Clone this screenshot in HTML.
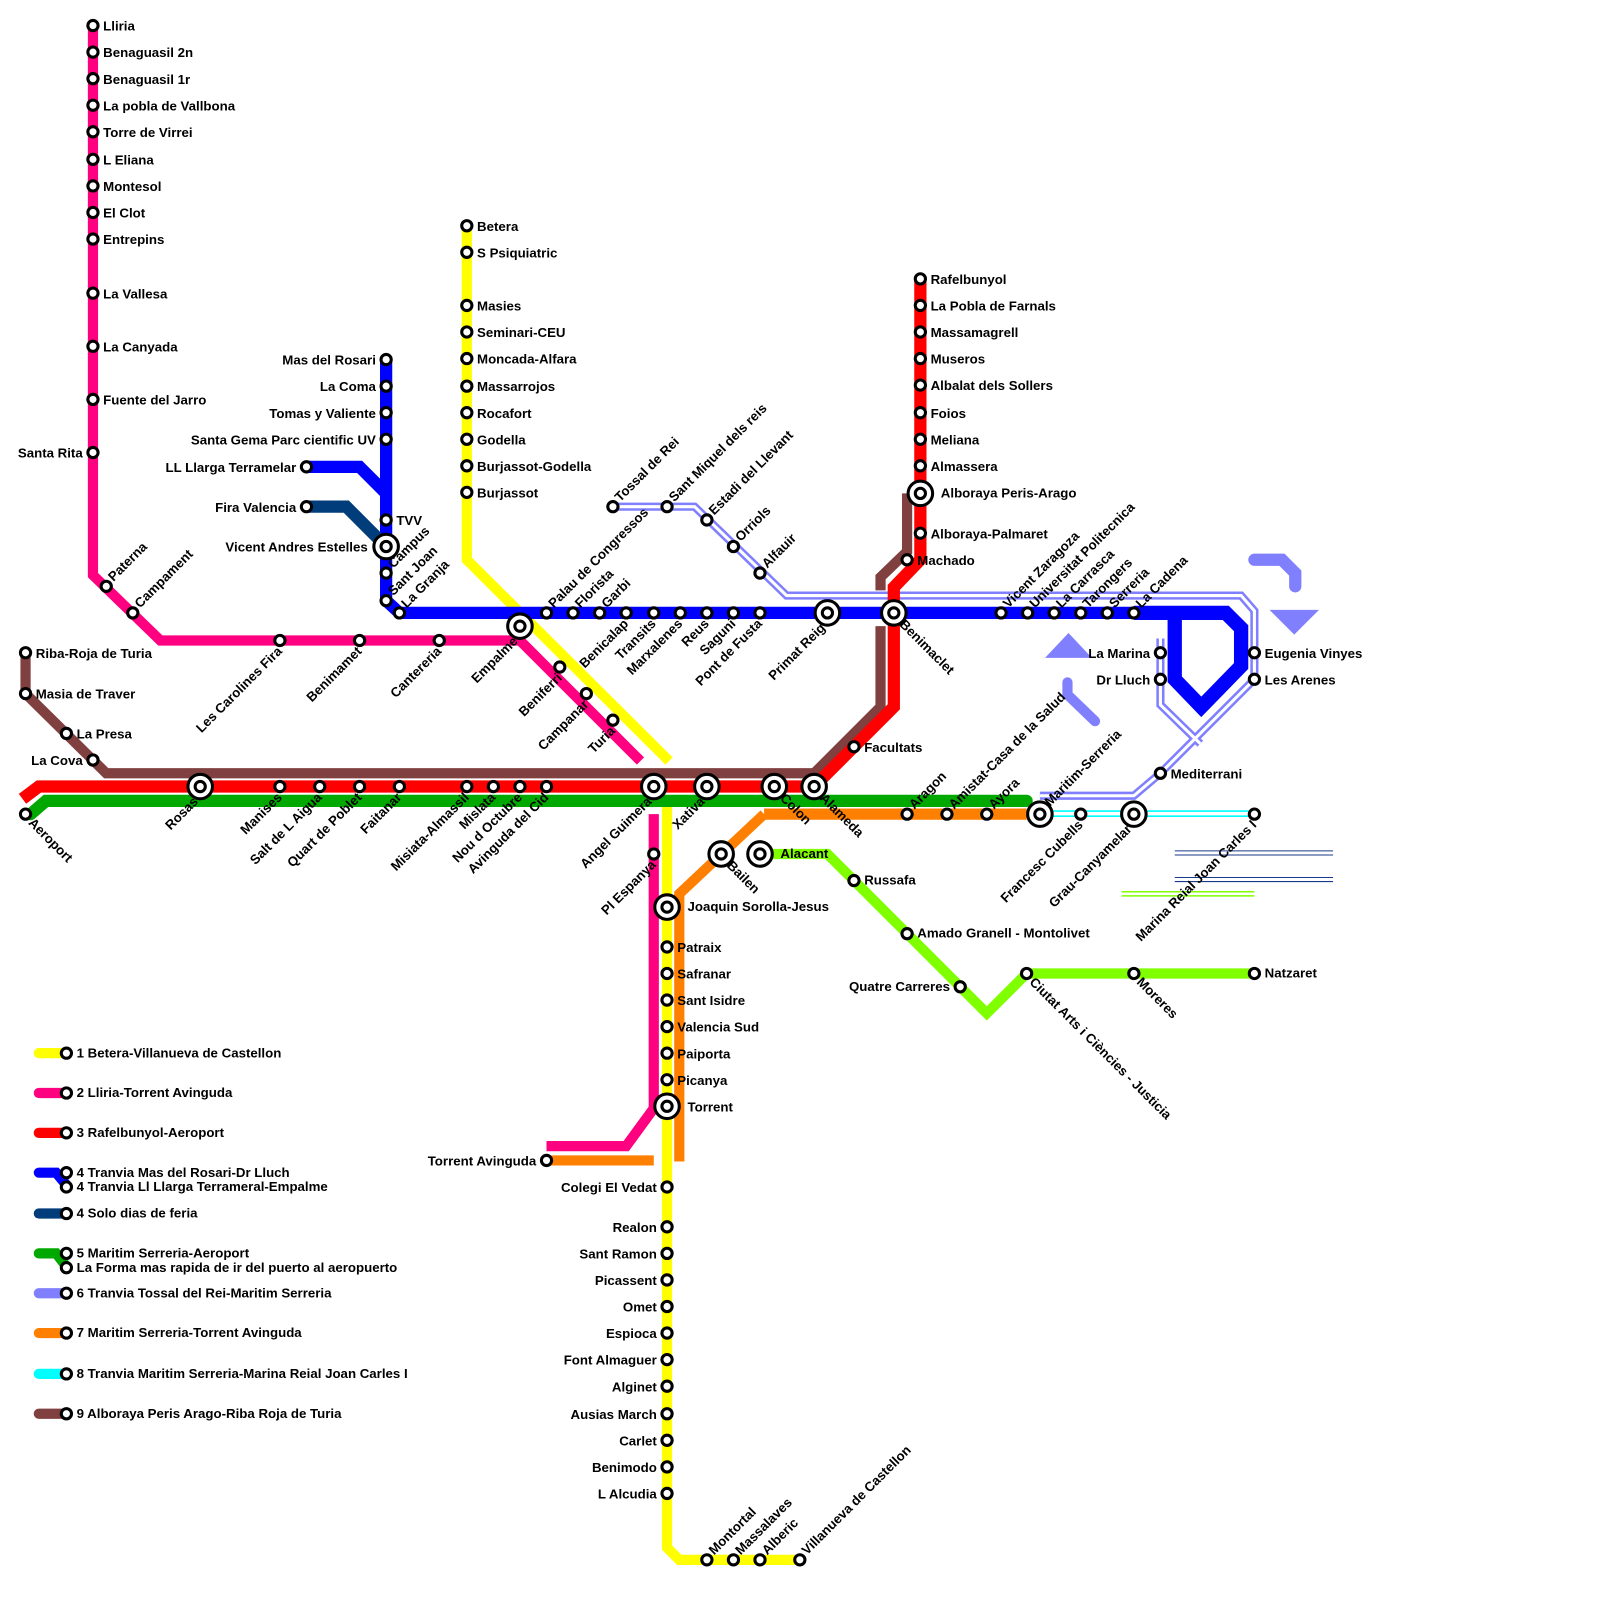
<!DOCTYPE html>
<html><head><meta charset="utf-8"><style>
html,body{margin:0;padding:0;background:#fff}
svg{display:block}
text{font-family:"Liberation Sans",Arial,sans-serif;font-weight:bold;font-size:13px;fill:#000}
.s{fill:#fff;stroke:#000;stroke-width:3}
.e{text-anchor:end}
path{fill:none;stroke-linejoin:miter}
</style></head><body>
<svg width="1600" height="1600" viewBox="0 0 1600 1600" xmlns="http://www.w3.org/2000/svg">
<g transform="scale(1.0215)">
<!-- decorations -->
<path d="M1150,833H1305M1150,837H1305M1150,859H1305M1150,863H1305" stroke="#1a3a8a" stroke-width="1"/>
<path d="M1098,873H1228M1098,877H1228" stroke="#80ff00" stroke-width="1.5"/>
<path d="M1228,548H1255L1268,561V574" stroke="#8080ff" stroke-width="12" stroke-linecap="round" stroke-linejoin="round"/>
<path d="M1250,600H1284L1267,617Z" style="fill:#8080ff" stroke="#8080ff" stroke-width="6" stroke-linejoin="round"/>
<path d="M1030,641H1062L1046,624Z" style="fill:#8080ff" stroke="#8080ff" stroke-width="6" stroke-linejoin="round"/>
<path d="M1045,668V680L1072,706" stroke="#8080ff" stroke-width="10" stroke-linecap="round"/>

<!-- line 6 lavender double -->
<g stroke="#8080ff" stroke-width="8">
<path d="M600,496H680L770,583H1215L1228,598V665L1136,757L1110,779H1018"/>
<path d="M1136,625V690L1175,728"/>
</g>
<g stroke="#fff" stroke-width="3">
<path d="M600,496H680L770,583H1215L1228,598V665L1136,757L1110,779H1018"/>
<path d="M1136,625V690L1175,728"/>
</g>
<path d="M1018,794H1228M1018,799H1228" stroke="#00ffff" stroke-width="1.5"/>

<path d="M457,221V548L655,745" stroke="#ffff00" stroke-width="10"/>
<path d="M653,790V1515L665,1527H783" stroke="#ffff00" stroke-width="10"/>
<path d="M91,25V563L157,627H509L627,745" stroke="#ff0080" stroke-width="10"/>
<path d="M640,797V1085L613,1122H535" stroke="#ff0080" stroke-width="10"/>
<path d="M748,797H1005" stroke="#ff8000" stroke-width="11"/>
<path d="M748,797L665,875V1137" stroke="#ff8000" stroke-width="10"/>
<path d="M535,1136H640" stroke="#ff8000" stroke-width="10"/>
<path d="M25,639V679L104,757H797L862,692V613" stroke="#804040" stroke-width="10"/>
<path d="M862,578V565L888,540V483" stroke="#804040" stroke-width="10"/>
<path d="M30,797L45,784H1005" stroke="#00a800" stroke-width="12" stroke-linecap="round"/>
<path d="M22,782L38,770H797L875,692V575L901,548V273" stroke="#ff0000" stroke-width="12"/>
<path d="M378,352V588L391,600H1150" stroke="#0000ff" stroke-width="12"/>
<path d="M300,457H352L378,483" stroke="#0000ff" stroke-width="12"/>
<path d="M1110,600H1200L1215,615V652L1176,692L1150,665V600" stroke="#0000ff" stroke-width="14"/>
<path d="M300,496H339L378,535" stroke="#003d7a" stroke-width="12"/>
<path d="M744,836H810L966,992L1005,953H1228" stroke="#80ff00" stroke-width="10"/>

<!-- legend -->
<g stroke-width="10" stroke-linecap="round">
<path d="M38,1031H65" stroke="#ffff00"/>
<path d="M38,1070H65" stroke="#ff0080"/>
<path d="M38,1109H65" stroke="#ff0000"/>
<path d="M38,1148H55L65,1160" stroke="#0000ff"/>
<path d="M38,1188H65" stroke="#003d7a"/>
<path d="M38,1227H55L65,1240" stroke="#00a800"/>
<path d="M38,1266H65" stroke="#8080ff"/>
<path d="M38,1305H65" stroke="#ff8000"/>
<path d="M38,1345H65" stroke="#00ffff"/>
<path d="M38,1384H65" stroke="#804040"/>
</g>
<g class="s">
<circle cx="65" cy="1031" r="5"/><circle cx="65" cy="1070" r="5"/><circle cx="65" cy="1109" r="5"/>
<circle cx="65" cy="1148" r="5"/><circle cx="65" cy="1162" r="5"/><circle cx="65" cy="1188" r="5"/>
<circle cx="65" cy="1227" r="5"/><circle cx="65" cy="1241" r="5"/><circle cx="65" cy="1266" r="5"/>
<circle cx="65" cy="1305" r="5"/><circle cx="65" cy="1345" r="5"/><circle cx="65" cy="1384" r="5"/>
</g>
<text x="75" y="1035">1 Betera-Villanueva de Castellon</text>
<text x="75" y="1074">2 Lliria-Torrent Avinguda</text>
<text x="75" y="1113">3 Rafelbunyol-Aeroport</text>
<text x="75" y="1152">4 Tranvia Mas del Rosari-Dr Lluch</text>
<text x="75" y="1166">4 Tranvia Ll Llarga Terrameral-Empalme</text>
<text x="75" y="1192">4 Solo dias de feria</text>
<text x="75" y="1231">5 Maritim Serreria-Aeroport</text>
<text x="75" y="1245">La Forma mas rapida de ir del puerto al aeropuerto</text>
<text x="75" y="1270">6 Tranvia Tossal del Rei-Maritim Serreria</text>
<text x="75" y="1309">7 Maritim Serreria-Torrent Avinguda</text>
<text x="75" y="1349">8 Tranvia Maritim Serreria-Marina Reial Joan Carles I</text>
<text x="75" y="1388">9 Alboraya Peris Arago-Riba Roja de Turia</text>

<g class="s">
<circle cx="91" cy="25" r="5"/><circle cx="91" cy="51" r="5"/><circle cx="91" cy="77" r="5"/><circle cx="91" cy="103" r="5"/>
<circle cx="91" cy="129" r="5"/><circle cx="91" cy="156" r="5"/><circle cx="91" cy="182" r="5"/><circle cx="91" cy="208" r="5"/>
<circle cx="91" cy="234" r="5"/><circle cx="91" cy="287" r="5"/><circle cx="91" cy="339" r="5"/><circle cx="91" cy="391" r="5"/>
<circle cx="91" cy="443" r="5"/><circle cx="104" cy="574" r="5"/><circle cx="130" cy="600" r="5"/>
<circle cx="274" cy="627" r="5"/><circle cx="352" cy="627" r="5"/><circle cx="430" cy="627" r="5"/>
<circle cx="548" cy="653" r="5"/><circle cx="574" cy="679" r="5"/><circle cx="600" cy="705" r="5"/>
<circle cx="640" cy="836" r="5"/><circle cx="535" cy="1136" r="5"/>
<circle cx="457" cy="221" r="5"/><circle cx="457" cy="247" r="5"/><circle cx="457" cy="299" r="5"/><circle cx="457" cy="325" r="5"/>
<circle cx="457" cy="351" r="5"/><circle cx="457" cy="378" r="5"/><circle cx="457" cy="404" r="5"/><circle cx="457" cy="430" r="5"/>
<circle cx="457" cy="456" r="5"/><circle cx="457" cy="482" r="5"/>
<circle cx="653" cy="927" r="5"/><circle cx="653" cy="953" r="5"/><circle cx="653" cy="979" r="5"/><circle cx="653" cy="1005" r="5"/>
<circle cx="653" cy="1031" r="5"/><circle cx="653" cy="1057" r="5"/><circle cx="653" cy="1162" r="5"/><circle cx="653" cy="1201" r="5"/>
<circle cx="653" cy="1227" r="5"/><circle cx="653" cy="1253" r="5"/><circle cx="653" cy="1279" r="5"/><circle cx="653" cy="1305" r="5"/>
<circle cx="653" cy="1331" r="5"/><circle cx="653" cy="1357" r="5"/><circle cx="653" cy="1384" r="5"/><circle cx="653" cy="1410" r="5"/>
<circle cx="653" cy="1436" r="5"/><circle cx="653" cy="1462" r="5"/>
<circle cx="692" cy="1527" r="5"/><circle cx="718" cy="1527" r="5"/><circle cx="744" cy="1527" r="5"/><circle cx="783" cy="1527" r="5"/>
<circle cx="901" cy="273" r="5"/><circle cx="901" cy="299" r="5"/><circle cx="901" cy="325" r="5"/><circle cx="901" cy="351" r="5"/>
<circle cx="901" cy="377" r="5"/><circle cx="901" cy="404" r="5"/><circle cx="901" cy="430" r="5"/><circle cx="901" cy="456" r="5"/>
<circle cx="901" cy="522" r="5"/><circle cx="888" cy="548" r="5"/><circle cx="836" cy="731" r="5"/>
<circle cx="274" cy="770" r="5"/><circle cx="313" cy="770" r="5"/><circle cx="352" cy="770" r="5"/><circle cx="391" cy="770" r="5"/>
<circle cx="457" cy="770" r="5"/><circle cx="483" cy="770" r="5"/><circle cx="509" cy="770" r="5"/><circle cx="535" cy="770" r="5"/>
<circle cx="25" cy="797" r="5"/>
<circle cx="25" cy="639" r="5"/><circle cx="25" cy="679" r="5"/><circle cx="65" cy="718" r="5"/><circle cx="91" cy="744" r="5"/>
<circle cx="378" cy="352" r="5"/><circle cx="378" cy="378" r="5"/><circle cx="378" cy="404" r="5"/><circle cx="378" cy="430" r="5"/>
<circle cx="378" cy="509" r="5"/><circle cx="378" cy="561" r="5"/><circle cx="378" cy="588" r="5"/><circle cx="391" cy="600" r="5"/>
<circle cx="300" cy="457" r="5"/><circle cx="300" cy="496" r="5"/>
<circle cx="535" cy="600" r="5"/><circle cx="561" cy="600" r="5"/><circle cx="587" cy="600" r="5"/><circle cx="613" cy="600" r="5"/>
<circle cx="640" cy="600" r="5"/><circle cx="666" cy="600" r="5"/><circle cx="692" cy="600" r="5"/><circle cx="718" cy="600" r="5"/>
<circle cx="744" cy="600" r="5"/>
<circle cx="980" cy="600" r="5"/><circle cx="1006" cy="600" r="5"/><circle cx="1032" cy="600" r="5"/><circle cx="1058" cy="600" r="5"/>
<circle cx="1084" cy="600" r="5"/><circle cx="1110" cy="600" r="5"/>
<circle cx="1136" cy="639" r="5"/><circle cx="1136" cy="665" r="5"/>
<circle cx="600" cy="496" r="5"/><circle cx="653" cy="496" r="5"/><circle cx="692" cy="509" r="5"/><circle cx="718" cy="535" r="5"/>
<circle cx="744" cy="561" r="5"/><circle cx="1228" cy="639" r="5"/><circle cx="1228" cy="665" r="5"/><circle cx="1136" cy="757" r="5"/>
<circle cx="888" cy="797" r="5"/><circle cx="927" cy="797" r="5"/><circle cx="966" cy="797" r="5"/><circle cx="1058" cy="797" r="5"/>
<circle cx="1228" cy="797" r="5"/>
<circle cx="836" cy="862" r="5"/><circle cx="888" cy="914" r="5"/><circle cx="940" cy="966" r="5"/><circle cx="1005" cy="953" r="5"/>
<circle cx="1110" cy="953" r="5"/><circle cx="1228" cy="953" r="5"/>
</g>
<g class="s">
<circle cx="196" cy="770" r="12"/><circle cx="196" cy="770" r="5"/>
<circle cx="509" cy="613" r="12"/><circle cx="509" cy="613" r="5"/>
<circle cx="640" cy="770" r="12"/><circle cx="640" cy="770" r="5"/>
<circle cx="692" cy="770" r="12"/><circle cx="692" cy="770" r="5"/>
<circle cx="758" cy="770" r="12"/><circle cx="758" cy="770" r="5"/>
<circle cx="797" cy="770" r="12"/><circle cx="797" cy="770" r="5"/>
<circle cx="378" cy="535" r="12"/><circle cx="378" cy="535" r="5"/>
<circle cx="810" cy="600" r="12"/><circle cx="810" cy="600" r="5"/>
<circle cx="875" cy="600" r="12"/><circle cx="875" cy="600" r="5"/>
<circle cx="901" cy="483" r="12"/><circle cx="901" cy="483" r="5"/>
<circle cx="653" cy="888" r="12"/><circle cx="653" cy="888" r="5"/>
<circle cx="653" cy="1083" r="12"/><circle cx="653" cy="1083" r="5"/>
<circle cx="706" cy="836" r="12"/><circle cx="706" cy="836" r="5"/>
<circle cx="744" cy="836" r="12"/><circle cx="744" cy="836" r="5"/>
<circle cx="1018" cy="797" r="12"/><circle cx="1018" cy="797" r="5"/>
<circle cx="1110" cy="797" r="12"/><circle cx="1110" cy="797" r="5"/>
</g>

<text x="101" y="30">Lliria</text><text x="101" y="56">Benaguasil 2n</text><text x="101" y="82">Benaguasil 1r</text>
<text x="101" y="108">La pobla de Vallbona</text><text x="101" y="134">Torre de Virrei</text><text x="101" y="161">L Eliana</text>
<text x="101" y="187">Montesol</text><text x="101" y="213">El Clot</text><text x="101" y="239">Entrepins</text>
<text x="101" y="292">La Vallesa</text><text x="101" y="344">La Canyada</text><text x="101" y="396">Fuente del Jarro</text>
<text x="81" y="448" class="e">Santa Rita</text>
<text x="467" y="226">Betera</text><text x="467" y="252">S Psiquiatric</text><text x="467" y="304">Masies</text>
<text x="467" y="330">Seminari-CEU</text><text x="467" y="356">Moncada-Alfara</text><text x="467" y="383">Massarrojos</text>
<text x="467" y="409">Rocafort</text><text x="467" y="435">Godella</text><text x="467" y="461">Burjassot-Godella</text>
<text x="467" y="487">Burjassot</text>
<text x="911" y="278">Rafelbunyol</text><text x="911" y="304">La Pobla de Farnals</text><text x="911" y="330">Massamagrell</text>
<text x="911" y="356">Museros</text><text x="911" y="382">Albalat dels Sollers</text><text x="911" y="409">Foios</text>
<text x="911" y="435">Meliana</text><text x="911" y="461">Almassera</text><text x="921" y="487">Alboraya Peris-Arago</text>
<text x="911" y="527">Alboraya-Palmaret</text><text x="898" y="553">Machado</text><text x="846" y="736">Facultats</text>
<text x="35" y="644">Riba-Roja de Turia</text><text x="35" y="684">Masia de Traver</text><text x="75" y="723">La Presa</text>
<text x="81" y="749" class="e">La Cova</text>
<text x="368" y="357" class="e">Mas del Rosari</text><text x="368" y="383" class="e">La Coma</text>
<text x="368" y="409" class="e">Tomas y Valiente</text><text x="368" y="435" class="e">Santa Gema Parc cientific UV</text>
<text x="290" y="462" class="e">LL Llarga Terramelar</text><text x="290" y="501" class="e">Fira Valencia</text>
<text x="360" y="540" class="e">Vicent Andres Estelles</text><text x="388" y="514">TVV</text>
<text x="1126" y="644" class="e">La Marina</text><text x="1126" y="670" class="e">Dr Lluch</text>
<text x="1238" y="644">Eugenia Vinyes</text><text x="1238" y="670">Les Arenes</text><text x="1146" y="762">Mediterrani</text>
<text x="673" y="892">Joaquin Sorolla-Jesus</text>
<text x="663" y="932">Patraix</text><text x="663" y="958">Safranar</text><text x="663" y="984">Sant Isidre</text>
<text x="663" y="1010">Valencia Sud</text><text x="663" y="1036">Paiporta</text><text x="663" y="1062">Picanya</text>
<text x="673" y="1088">Torrent</text>
<text x="525" y="1141" class="e">Torrent Avinguda</text>
<text x="643" y="1167" class="e">Colegi El Vedat</text><text x="643" y="1206" class="e">Realon</text>
<text x="643" y="1232" class="e">Sant Ramon</text><text x="643" y="1258" class="e">Picassent</text>
<text x="643" y="1284" class="e">Omet</text><text x="643" y="1310" class="e">Espioca</text>
<text x="643" y="1336" class="e">Font Almaguer</text><text x="643" y="1362" class="e">Alginet</text>
<text x="643" y="1389" class="e">Ausias March</text><text x="643" y="1415" class="e">Carlet</text>
<text x="643" y="1441" class="e">Benimodo</text><text x="643" y="1467" class="e">L Alcudia</text>
<text x="764" y="840">Alacant</text><text x="846" y="866">Russafa</text><text x="898" y="918">Amado Granell - Montolivet</text>
<text x="930" y="970" class="e">Quatre Carreres</text><text x="1238" y="957">Natzaret</text>

<g>
<text transform="translate(104,574) rotate(-45)" x="8" y="2">Paterna</text>
<text transform="translate(130,600) rotate(-45)" x="8" y="2">Campament</text>
<text transform="translate(378,561) rotate(-45)" x="8" y="2">Campus</text>
<text transform="translate(378,588) rotate(-45)" x="8" y="2">Sant Joan</text>
<text transform="translate(391,600) rotate(-45)" x="8" y="2">La Granja</text>
<text transform="translate(535,600) rotate(-45)" x="8" y="2">Palau de Congressos</text>
<text transform="translate(561,600) rotate(-45)" x="8" y="2">Florista</text>
<text transform="translate(587,600) rotate(-45)" x="8" y="2">Garbi</text>
<text transform="translate(600,496) rotate(-45)" x="8" y="2">Tossal de Rei</text>
<text transform="translate(653,496) rotate(-45)" x="8" y="2">Sant Miquel dels reis</text>
<text transform="translate(692,509) rotate(-45)" x="8" y="2">Estadi del Llevant</text>
<text transform="translate(718,535) rotate(-45)" x="8" y="2">Orriols</text>
<text transform="translate(744,561) rotate(-45)" x="8" y="2">Alfauir</text>
<text transform="translate(980,600) rotate(-45)" x="8" y="2">Vicent Zaragoza</text>
<text transform="translate(1006,600) rotate(-45)" x="8" y="2">Universitat Politecnica</text>
<text transform="translate(1032,600) rotate(-45)" x="8" y="2">La Carrasca</text>
<text transform="translate(1058,600) rotate(-45)" x="8" y="2">Tarongers</text>
<text transform="translate(1084,600) rotate(-45)" x="8" y="2">Serreria</text>
<text transform="translate(1110,600) rotate(-45)" x="8" y="2">La Cadena</text>
<text transform="translate(888,797) rotate(-45)" x="8" y="2">Aragon</text>
<text transform="translate(927,797) rotate(-45)" x="8" y="2">Amistat-Casa de la Salud</text>
<text transform="translate(966,797) rotate(-45)" x="8" y="2">Ayora</text>
<text transform="translate(1018,797) rotate(-45)" x="12" y="2">Maritim-Serreria</text>
<text transform="translate(692,1527) rotate(-45)" x="8" y="2">Montortal</text>
<text transform="translate(718,1527) rotate(-45)" x="8" y="2">Massalaves</text>
<text transform="translate(744,1527) rotate(-45)" x="8" y="2">Alberic</text>
<text transform="translate(783,1527) rotate(-45)" x="8" y="2">Villanueva de Castellon</text>
</g>
<g class="e">
<text transform="translate(196,770) rotate(-45)" x="-12" y="10">Rosas</text>
<text transform="translate(274,770) rotate(-45)" x="-6" y="10">Manises</text>
<text transform="translate(313,770) rotate(-45)" x="-6" y="10">Salt de L Aigua</text>
<text transform="translate(352,770) rotate(-45)" x="-6" y="10">Quart de Poblet</text>
<text transform="translate(391,770) rotate(-45)" x="-6" y="10">Faitanar</text>
<text transform="translate(457,770) rotate(-45)" x="-6" y="10">Misiata-Almassil</text>
<text transform="translate(483,770) rotate(-45)" x="-6" y="10">Mislata</text>
<text transform="translate(509,770) rotate(-45)" x="-6" y="10">Nou d Octubre</text>
<text transform="translate(535,770) rotate(-45)" x="-6" y="10">Avinguda del Cid</text>
<text transform="translate(640,770) rotate(-45)" x="-12" y="10">Angel Guimera</text>
<text transform="translate(692,770) rotate(-45)" x="-12" y="10">Xativa</text>
<text transform="translate(640,836) rotate(-45)" x="-6" y="10">Pl Espanya</text>
<text transform="translate(274,627) rotate(-45)" x="-6" y="10">Les Carolines Fira</text>
<text transform="translate(352,627) rotate(-45)" x="-6" y="10">Benimamet</text>
<text transform="translate(430,627) rotate(-45)" x="-6" y="10">Cantereria</text>
<text transform="translate(509,613) rotate(-45)" x="-12" y="10">Empalme</text>
<text transform="translate(548,653) rotate(-45)" x="-6" y="10">Beniferri</text>
<text transform="translate(574,679) rotate(-45)" x="-6" y="10">Campanar</text>
<text transform="translate(600,705) rotate(-45)" x="-6" y="10">Turia</text>
<text transform="translate(613,600) rotate(-45)" x="-6" y="10">Benicalap</text>
<text transform="translate(640,600) rotate(-45)" x="-6" y="10">Transits</text>
<text transform="translate(666,600) rotate(-45)" x="-6" y="10">Marxalenes</text>
<text transform="translate(692,600) rotate(-45)" x="-6" y="10">Reus</text>
<text transform="translate(718,600) rotate(-45)" x="-6" y="10">Saguni</text>
<text transform="translate(744,600) rotate(-45)" x="-6" y="10">Pont de Fusta</text>
<text transform="translate(810,600) rotate(-45)" x="-12" y="10">Primat Reig</text>
<text transform="translate(1058,797) rotate(-45)" x="-6" y="10">Francesc Cubells</text>
<text transform="translate(1110,797) rotate(-45)" x="-12" y="10">Grau-Canyamelar</text>
<text transform="translate(1228,797) rotate(-45)" x="-6" y="10">Marina Reial Joan Carles I</text>
</g>
<g>
<text transform="translate(25,797) rotate(45)" x="8" y="5">Aeroport</text>
<text transform="translate(758,770) rotate(45)" x="12" y="5">Colon</text>
<text transform="translate(797,770) rotate(45)" x="12" y="5">Alameda</text>
<text transform="translate(875,600) rotate(45)" x="12" y="5">Benimaclet</text>
<text transform="translate(706,836) rotate(45)" x="12" y="5">Bailen</text>
<text transform="translate(1005,953) rotate(45)" x="8" y="5">Ciutat Arts i Ciències - Justicia</text>
<text transform="translate(1110,953) rotate(45)" x="8" y="5">Moreres</text>
</g>
</g>
</svg>
</body></html>
